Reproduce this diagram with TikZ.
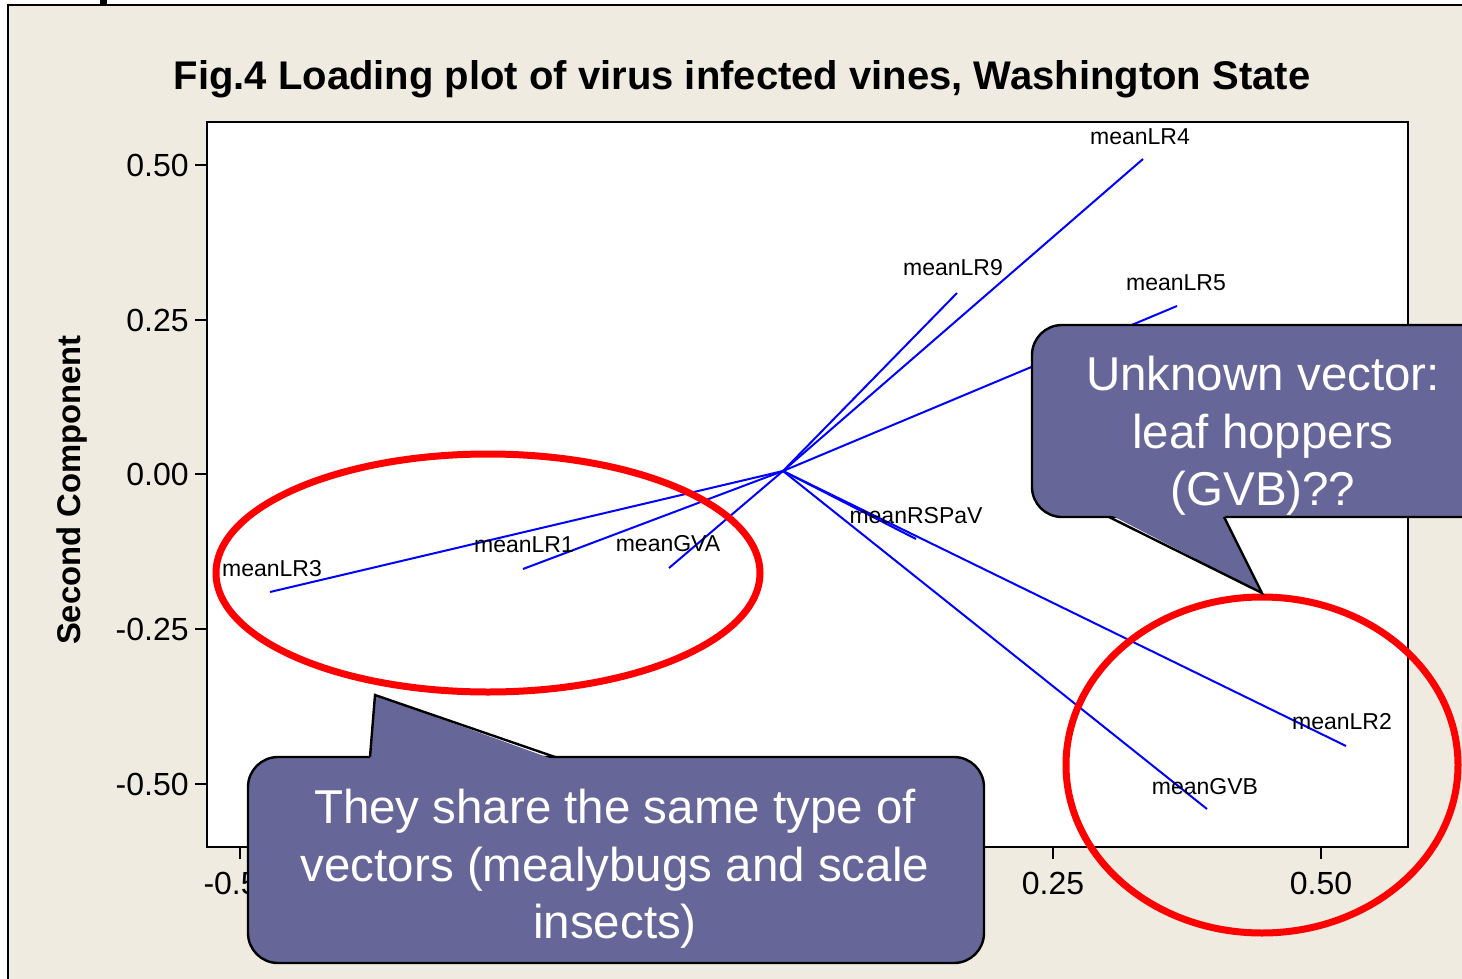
\documentclass[tikz,border=0pt]{standalone}
\usepackage{fontspec}
\setmainfont{Liberation Sans}
\usepackage{tikz}
\usetikzlibrary{calc}
\definecolor{beige}{HTML}{EFEBE1}
\definecolor{bleu}{HTML}{0000FF}
\definecolor{rouge}{HTML}{FF0000}
\definecolor{ardoise}{HTML}{666699}

\tikzset{
  etiquette/.style={inner sep=0pt,font=\fontsize{11.5}{13}\selectfont},
  graduation/.style={inner sep=0pt,font=\fontsize{16}{19}\selectfont},
  vecteur/.style={bleu,line width=1pt},
  entoure/.style={rouge,line width=3.5pt},
  bulle/.style={fill=ardoise,draw=black,line width=1.2pt,rounded corners=15pt},
  textebulle/.style={white,align=center,inner sep=0pt,
    font=\fontsize{23.75}{28.75}\selectfont}
}

\begin{document}
\begin{tikzpicture}[x=0.5pt,y=-0.5pt]
  \clip (0,0) rectangle (1462,979);
  \fill[beige] (8,5) rectangle (1462,979);
  \draw[line width=1pt] (8,979) -- (8,5) -- (1462,5);
  \fill (100,0) rectangle (107,5);

  \node[font=\bfseries\fontsize{20}{24}\selectfont] (titre) at (742,79)
    {Fig.4 Loading plot of virus infected vines, Washington State};
  \node[
    rotate=90,
    font=\bfseries\fontsize{16.4}{20}\selectfont] (axey) at (72,490)
    {Second Component};

  % cadre du graphe
  \draw[fill=white,line width=1.2pt] (207,122) rectangle (1408,847);
  \foreach \y/\t in {165/0.50,320/0.25,474/0.00,629/-0.25,784/-0.50}{
    \draw[line width=1pt] (195,\y) -- (207,\y);
    \node[graduation,anchor=east] (gy\y) at (189,\y) {\t};
  }
  \foreach \x in {240,511,782,1053,1321}
    \draw[line width=1pt] (\x,847) -- (\x,859);
  \node[graduation] (gx1) at (240,883) {-0.50};
  \node[graduation] (gx2) at (1053,883) {0.25};
  \node[graduation] (gx3) at (1321,883) {0.50};

  % vecteurs des charges
  \coordinate (O) at (783,471);
  \coordinate (LR4) at (1143,159);
  \coordinate (LR9) at (957,293);
  \coordinate (LR5) at (1177,306);
  \coordinate (RSPaV) at (916,539);
  \coordinate (LR2) at (1346,746);
  \coordinate (GVB) at (1207,809);
  \coordinate (GVA) at (669,568);
  \coordinate (LR1) at (523,569);
  \coordinate (LR3) at (270,592);

  \foreach \v in {LR4,LR9,LR5,RSPaV,LR2,GVB,GVA,LR1,LR3}
    \draw[vecteur] (O) -- (\v);

  \node[etiquette] (nLR4) at (1140,137) {meanLR4};
  \node[etiquette] (nLR9) at (953,268) {meanLR9};
  \node[etiquette] (nLR5) at (1176,283) {meanLR5};
  \node[etiquette] (nRSPaV) at (916,516) {meanRSPaV};
  \node[etiquette] (nLR2) at (1342,722) {meanLR2};
  \node[etiquette] (nGVB) at (1205,787) {meanGVB};
  \node[etiquette] (nGVA) at (668,544) {meanGVA};
  \node[etiquette] (nLR1) at (524,545) {meanLR1};
  \node[etiquette] (nLR3) at (272,569) {meanLR3};

  % groupes entoures
  \draw[entoure] (488,573) ellipse [x radius=272, y radius=119];
  \draw[entoure] (1262,765) ellipse [x radius=196, y radius=168];

  % bulle de droite
  \draw[bulle] (1032,325) rectangle (1500,517);
  \fill[ardoise] (1109,514) -- (1262,593) -- (1224,514) -- cycle;
  \draw[line width=1.2pt] (1109,517) -- (1262,593) -- (1224,517);
  \node[textebulle] (tdroite) at (1263,436)
    {Unknown vector:\\leaf hoppers\\(GVB)??};

  % bulle de gauche
  \draw[bulle] (248,757) rectangle (984,963);
  \fill[ardoise] (370,760) -- (375,695) -- (555,760) -- cycle;
  \draw[line width=1.2pt] (370,757) -- (375,695) -- (555,757);
  \node[textebulle] (tgauche) at (615,869)
    {They share the same type of\\vectors (mealybugs and scale\\insects)};
\end{tikzpicture}
\end{document}
